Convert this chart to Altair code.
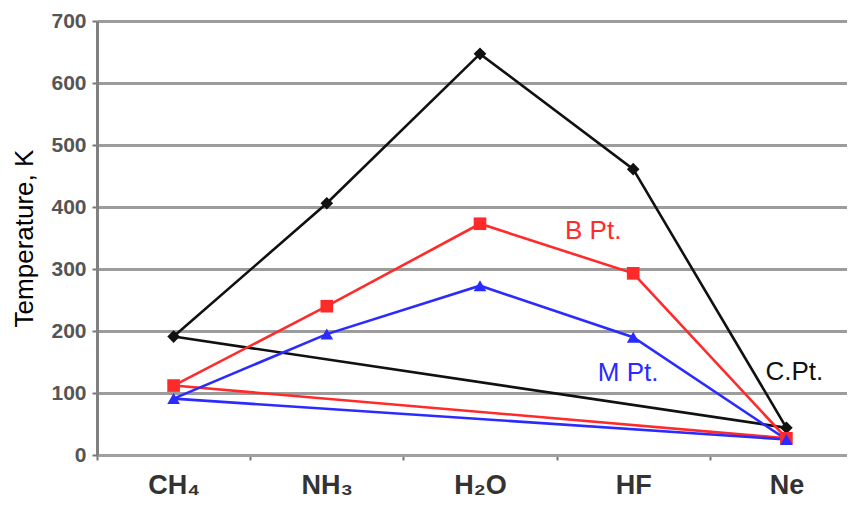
import altair as alt
import pandas as pd

compounds = ["CH₄", "NH₃", "H₂O", "HF", "Ne"]
crit_pt = [191, 406, 647, 461, 44]
boil_pt = [112, 240, 373, 293, 27]
melt_pt = [91, 195, 273, 190, 25]

series_names = ["C.Pt.", "B Pt.", "M Pt."]
series_colors = ["#111111", "#ff2b2b", "#2b2bff"]
series_shapes = ["diamond", "square", "triangle-up"]

ann_text = ["B Pt.", "M Pt.", "C.Pt."]
ann_x = ["HF", "HF", "Ne"]
ann_y = [362, 132, 134]

rows = []
for name, vals in zip(series_names, [crit_pt, boil_pt, melt_pt]):
    for i, (c, v) in enumerate(zip(compounds, vals)):
        rows.append({"series": name, "compound": c, "value": v, "ord": i})
    # closing segment back to first compound
    rows.append({"series": name, "compound": compounds[0], "value": vals[0], "ord": len(compounds)})
df = pd.DataFrame(rows)
pts = df[df["ord"] < len(compounds)]

xscale = alt.Scale(type="point", domain=compounds, range=[0, 766], padding=0.5)
yscale = alt.Scale(domain=[0, 700])
color_scale = alt.Scale(domain=series_names, range=series_colors)
shape_scale = alt.Scale(domain=series_names, range=series_shapes)

x_enc = alt.X("compound:N", scale=xscale, sort=compounds,
              axis=alt.Axis(title=None, labelAngle=0, labelFontSize=27, labelFontWeight="bold",
                            labelColor="#333333", labelPadding=12, tickOffset=-76.6, labelOffset=76.6,
                            tickSize=5, tickWidth=2, tickColor="#777777",
                            domainColor="#a0a0a0", domainWidth=3, grid=False))
y_enc = alt.Y("value:Q", scale=yscale,
              axis=alt.Axis(title="Temperature, K", values=[0, 100, 200, 300, 400, 500, 600, 700],
                            labelFontSize=21, labelFontWeight="bold", labelColor="#555555",
                            labelPadding=6, tickSize=5, tickWidth=2, tickColor="#777777",
                            domainColor="#808080", domainWidth=3,
                            grid=True, gridColor="#9c9c9c", gridWidth=3,
                            titleFontSize=26, titleFontWeight="normal", titleColor="#000000",
                            titleX=-73, titleY=217, titleAngle=-90, titleAlign="center",
                            titleBaseline="middle"))

lines = alt.Chart(df).mark_line(strokeWidth=2.6).encode(
    x=x_enc, y=y_enc,
    color=alt.Color("series:N", scale=color_scale, legend=None),
    order=alt.Order("ord:Q"),
)
points = alt.Chart(pts).mark_point(filled=True, size=160, opacity=1).encode(
    x=alt.X("compound:N", scale=xscale, sort=compounds),
    y=alt.Y("value:Q", scale=yscale),
    color=alt.Color("series:N", scale=color_scale, legend=None),
    shape=alt.Shape("series:N", scale=shape_scale, legend=None),
)

ann_dx = [-40, -5, 8]
ann_colors = ["#ff2b2b", "#2b2bff", "#111111"]
texts = []
for t, xv, yv, dx, col in zip(ann_text, ann_x, ann_y, ann_dx, ann_colors):
    d = pd.DataFrame({"label": [t], "compound": [xv], "value": [yv]})
    texts.append(alt.Chart(d).mark_text(fontSize=26, color=col, dx=dx, align="center",
                                        baseline="middle", font="Liberation Sans").encode(
        x=alt.X("compound:N", scale=xscale, sort=compounds),
        y=alt.Y("value:Q", scale=yscale),
        text="label:N",
    ))

chart = alt.layer(lines, points, *texts).properties(
    width=750, height=434,
    autosize=alt.AutoSizeParams(type="none"),
    padding={"left": 89, "top": 13, "right": 0, "bottom": 45},
).configure_view(stroke=None).configure(font="Liberation Sans")

chart.save("out.html", embed_options={"renderer": "svg", "actions": False})
